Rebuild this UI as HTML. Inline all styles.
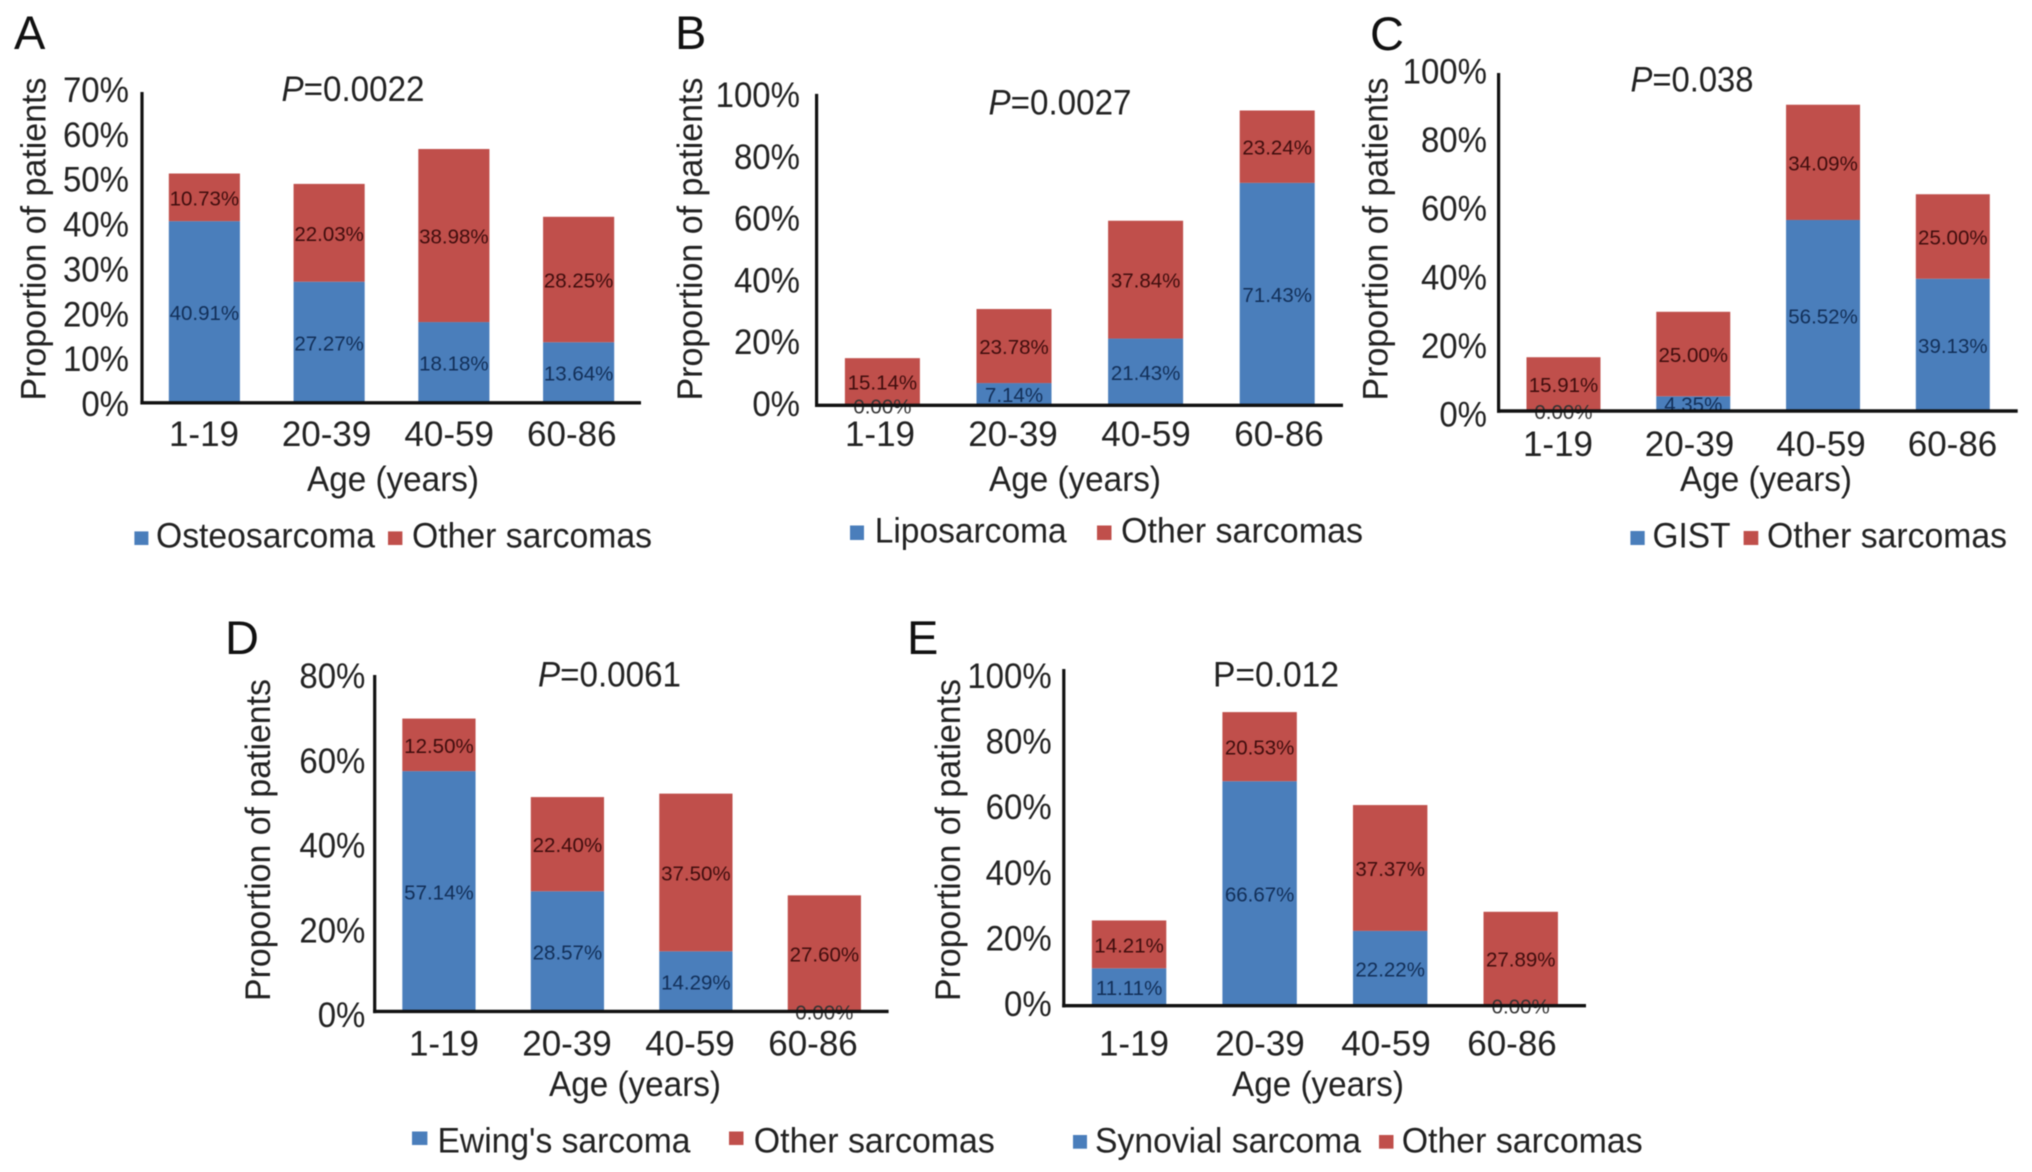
<!DOCTYPE html>
<html lang="en">
<head>
<meta charset="utf-8">
<title>Proportion of patients by age and sarcoma type</title>
<style>
html,body{margin:0;padding:0;background:#fff;width:2032px;height:1172px;overflow:hidden}
svg{display:block;filter:blur(0.55px)}
text{font-family:"Liberation Sans",sans-serif;fill:#222}
.t{font-size:35px}
.letter{font-size:47px;fill:#111}
.val{font-size:20.5px;text-anchor:middle}
.blue{fill:#4a7ebb}
.red{fill:#c04f4b}
</style>
</head>
<body>
<svg id="fig" xmlns="http://www.w3.org/2000/svg" width="2032" height="1172" viewBox="0 0 2032 1172">
  <rect width="2032" height="1172" fill="#fff"/>

  <g id="panel-a">
    <text class="letter" x="14" y="49">A</text>
    <text class="t" x="353" y="101" text-anchor="middle" textLength="143" lengthAdjust="spacingAndGlyphs"><tspan font-style="italic">P</tspan>=0.0022</text>
    <text class="t" x="45.5" y="400.5" textLength="323" lengthAdjust="spacingAndGlyphs" transform="rotate(-90 45.5 400.5)">Proportion of patients</text>
    <text class="t" x="393" y="490.8" text-anchor="middle" textLength="172" lengthAdjust="spacingAndGlyphs">Age (years)</text>
    <rect class="blue" x="134.4" y="531.4" width="14" height="13.6"/>
    <text class="t" x="156" y="547.5" textLength="219" lengthAdjust="spacingAndGlyphs">Osteosarcoma</text>
    <rect class="red" x="388" y="531.4" width="14.4" height="13.6"/>
    <text class="t" x="412" y="547.5" textLength="240" lengthAdjust="spacingAndGlyphs">Other sarcomas</text>
  </g>

  <g id="panel-b">
    <text class="letter" x="675" y="49">B</text>
    <text class="t" x="1060" y="114.5" text-anchor="middle" textLength="143" lengthAdjust="spacingAndGlyphs"><tspan font-style="italic">P</tspan>=0.0027</text>
    <text class="t" x="702" y="400.5" textLength="323" lengthAdjust="spacingAndGlyphs" transform="rotate(-90 702 400.5)">Proportion of patients</text>
    <text class="t" x="1075" y="490.8" text-anchor="middle" textLength="172" lengthAdjust="spacingAndGlyphs">Age (years)</text>
    <rect class="blue" x="850" y="525.5" width="14" height="14.5"/>
    <text class="t" x="874.7" y="542.5" textLength="192" lengthAdjust="spacingAndGlyphs">Liposarcoma</text>
    <rect class="red" x="1097" y="525.5" width="14.5" height="14.5"/>
    <text class="t" x="1121" y="542.5" textLength="242" lengthAdjust="spacingAndGlyphs">Other sarcomas</text>
  </g>

  <g id="panel-c">
    <text class="letter" x="1370" y="50">C</text>
    <text class="t" x="1692" y="91.5" text-anchor="middle" textLength="123" lengthAdjust="spacingAndGlyphs"><tspan font-style="italic">P</tspan>=0.038</text>
    <text class="t" x="1387.5" y="400.5" textLength="323" lengthAdjust="spacingAndGlyphs" transform="rotate(-90 1387.5 400.5)">Proportion of patients</text>
    <text class="t" x="1766" y="490.8" text-anchor="middle" textLength="172" lengthAdjust="spacingAndGlyphs">Age (years)</text>
    <rect class="blue" x="1630.4" y="531" width="14.3" height="14"/>
    <text class="t" x="1652.5" y="547.5" textLength="78" lengthAdjust="spacingAndGlyphs">GIST</text>
    <rect class="red" x="1743.6" y="531" width="14.7" height="14"/>
    <text class="t" x="1767" y="547.5" textLength="240" lengthAdjust="spacingAndGlyphs">Other sarcomas</text>
  </g>

  <g id="panel-d">
    <text class="letter" x="225" y="654">D</text>
    <text class="t" x="609.5" y="686.5" text-anchor="middle" textLength="143" lengthAdjust="spacingAndGlyphs"><tspan font-style="italic">P</tspan>=0.0061</text>
    <text class="t" x="270" y="1001" textLength="322" lengthAdjust="spacingAndGlyphs" transform="rotate(-90 270 1001)">Proportion of patients</text>
    <text class="t" x="635" y="1095.8" text-anchor="middle" textLength="172" lengthAdjust="spacingAndGlyphs">Age (years)</text>
    <rect class="blue" x="412" y="1131.5" width="15.4" height="13.5"/>
    <text class="t" x="437.5" y="1152.5" textLength="253" lengthAdjust="spacingAndGlyphs">Ewing's sarcoma</text>
    <rect class="red" x="729" y="1131.5" width="14.5" height="13.5"/>
    <text class="t" x="753.8" y="1152.5" textLength="241" lengthAdjust="spacingAndGlyphs">Other sarcomas</text>
  </g>

  <g id="panel-e">
    <text class="letter" x="907" y="654">E</text>
    <text class="t" x="1276" y="686.5" text-anchor="middle" textLength="126" lengthAdjust="spacingAndGlyphs">P=0.012</text>
    <text class="t" x="960" y="1001" textLength="322" lengthAdjust="spacingAndGlyphs" transform="rotate(-90 960 1001)">Proportion of patients</text>
    <text class="t" x="1318" y="1095.8" text-anchor="middle" textLength="172" lengthAdjust="spacingAndGlyphs">Age (years)</text>
    <rect class="blue" x="1073" y="1135" width="14" height="13.7"/>
    <text class="t" x="1095" y="1152.5" textLength="266" lengthAdjust="spacingAndGlyphs">Synovial sarcoma</text>
    <rect class="red" x="1379" y="1135" width="14.5" height="13.7"/>
    <text class="t" x="1401.7" y="1152.5" textLength="241" lengthAdjust="spacingAndGlyphs">Other sarcomas</text>
  </g>
</svg>
<script>
// ---- chart data ----
const categories = ['1-19', '20-39', '40-59', '60-86'];

const osteosarcoma = [40.91, 27.27, 18.18, 13.64];
const otherA = [10.73, 22.03, 38.98, 28.25];
const liposarcoma = [0.00, 7.14, 21.43, 71.43];
const otherB = [15.14, 23.78, 37.84, 23.24];
const gist = [0.00, 4.35, 56.52, 39.13];
const otherC = [15.91, 25.00, 34.09, 25.00];
const ewing = [57.14, 28.57, 14.29, 0.00];
const otherD = [12.50, 22.40, 37.50, 27.60];
const synovial = [11.11, 66.67, 22.22, 0.00];
const otherE = [14.21, 20.53, 37.37, 27.89];

const ticksA = [0, 10, 20, 30, 40, 50, 60, 70];
const ticksB = [0, 20, 40, 60, 80, 100];
const ticksC = [0, 20, 40, 60, 80, 100];
const ticksD = [0, 20, 40, 60, 80];
const ticksE = [0, 20, 40, 60, 80, 100];

// ---- panel layout ----
const panelA = {key:'a', main:osteosarcoma, other:otherA, ticks:ticksA, left:142, right:641, top:92, base:402.8,
  tickRight:129, tickTopY:90, tickZeroY:404, catStart:204, catStep:122.6, catY:446};
const panelB = {key:'b', main:liposarcoma, other:otherB, ticks:ticksB, left:816.6, right:1343, top:93.9, base:405.3,
  tickRight:800, tickTopY:95, tickZeroY:404, catStart:880, catStep:133, catY:446};
const panelC = {key:'c', main:gist, other:otherC, ticks:ticksC, left:1498.6, right:2017.7, top:73, base:411,
  tickRight:1487, tickTopY:71.6, tickZeroY:414.4, catStart:1558, catStep:131.5, catY:456};
const panelD = {key:'d', main:ewing, other:otherD, ticks:ticksD, left:374.7, right:888.6, top:675, base:1011.4,
  tickRight:365.4, tickTopY:676, tickZeroY:1015, catStart:444, catStep:123, catY:1055.5};
const panelE = {key:'e', main:synovial, other:otherE, ticks:ticksE, left:1063.8, right:1586, top:669, base:1005.7,
  tickRight:1051.7, tickTopY:676, tickZeroY:1004, catStart:1134, catStep:126, catY:1055.5};
const panels = [panelA, panelB, panelC, panelD, panelE];

const NS = 'http://www.w3.org/2000/svg';
function make(tag, parent, attrs) {
  const el = document.createElementNS(NS, tag);
  for (const k in attrs) el.setAttribute(k, attrs[k]);
  parent.appendChild(el);
  return el;
}

panels.forEach(function (p) {
  const g = document.getElementById('panel-' + p.key);
  const maxTick = p.ticks[p.ticks.length - 1];
  const yScale = function (v) { return p.base - v * (p.base - p.top) / maxTick; };
  const band = (p.right - p.left) / categories.length;
  const xCenter = function (i) { return p.left + (i + 0.5) * band; };
  const barW = band * 0.57;

  // stacked bars
  categories.forEach(function (c, i) {
    const a = p.main[i], b = p.other[i];
    const r1 = make('rect', g, {x: xCenter(i) - barW / 2, y: yScale(a), width: barW, height: yScale(0) - yScale(a), fill: '#4a7ebb'});
    
    
    const r2 = make('rect', g, {x: xCenter(i) - barW / 2, y: yScale(a + b), width: barW, height: yScale(a) - yScale(a + b), fill: '#c04f4b'});
    
    
  });

  // value labels
  categories.forEach(function (c, i) {
    const a = p.main[i], b = p.other[i];
    const t1 = make('text', g, {'class': 'val', x: xCenter(i), y: yScale(a / 2) + 8, style: 'fill:' + (a === 0 ? '#333' : '#122f58')});
    t1.textContent = a.toFixed(2) + '%';
    
    
    const t2 = make('text', g, {'class': 'val', x: xCenter(i), y: yScale(a + b / 2) + 8, style: 'fill:#3f0d0d'});
    t2.textContent = b.toFixed(2) + '%';
    
    
  });

  // axes
  const yAxis = make('line', g, {x1: p.left, x2: p.left, y1: p.top, y2: p.base + 1.7, stroke: '#111', 'stroke-width': 3.2});
  
  
  const xAxis = make('line', g, {x1: p.left - 1.6, x2: p.right, y1: p.base, y2: p.base, stroke: '#111', 'stroke-width': 3.4});
  
  

  // y tick labels
  p.ticks.forEach(function (v) {
    const cy = p.tickZeroY + (p.tickTopY - p.tickZeroY) * v / maxTick;
    const label = v + '%';
    const t = make('text', g, {'class': 't', x: p.tickRight, y: cy + 12, 'text-anchor': 'end', textLength: ((label.length - 1) * 0.556 + 0.889) * 33, lengthAdjust: 'spacingAndGlyphs'});
    t.textContent = label;
    
    
  });

  // category labels
  categories.forEach(function (c, i) {
    const t = make('text', g, {'class': 't', x: p.catStart + i * p.catStep, y: p.catY, 'text-anchor': 'middle'});
    t.textContent = c;
    
    
  });
});
</script>
</body>
</html>
